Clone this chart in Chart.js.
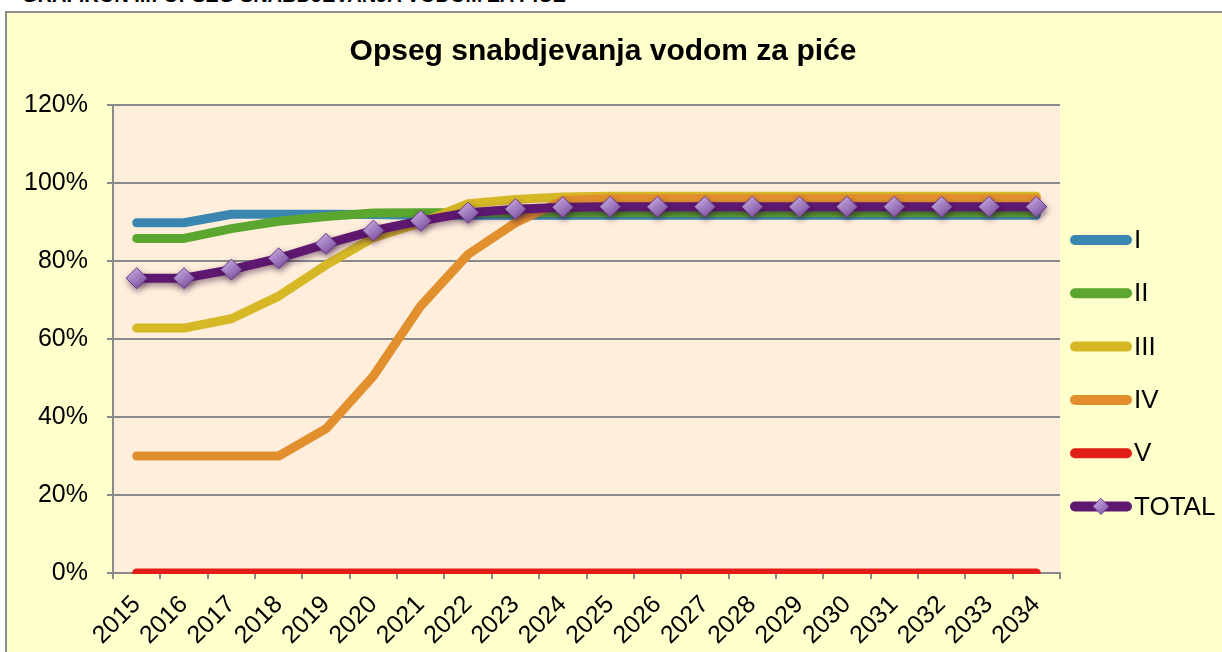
<!DOCTYPE html>
<html>
<head>
<meta charset="utf-8">
<script src="https://cdn.jsdelivr.net/npm/chart.js@4.4.1/dist/chart.umd.min.js"></script>
<style>
  html, body { margin: 0; padding: 0; background: #ffffff; width: 1222px; height: 652px; overflow: hidden; }
  #frame { position: absolute; left: 5px; top: 11px; width: 1260px; height: 700px; background: #FFFFCC; border: 2px solid #8c8c8c; box-sizing: border-box; }
  #caption { position: absolute; left: 22px; top: -16px; font: bold 20px Arial, 'Liberation Sans', sans-serif; color: #000; white-space: nowrap; }
  #wrap { position: absolute; left: 0; top: 0; width: 1222px; height: 652px; }
</style>
</head>
<body>
<div id="caption">GRAFIKON III: OPSEG SNABDJEVANJA VODOM ZA PIĆE</div>
<div id="frame"></div>
<div id="wrap"><canvas id="c" width="1222" height="652"></canvas></div>
<script>
const chartTitle = 'Opseg snabdjevanja vodom za piće';
const years = ['2015','2016','2017','2018','2019','2020','2021','2022','2023','2024','2025','2026','2027','2028','2029','2030','2031','2032','2033','2034'];
const seriesNames = ['I','II','III','IV','V','TOTAL'];
const seriesI     = [89.8, 89.8, 92.0, 92.0, 92.0, 91.9, 91.7, 91.7, 91.7, 91.7, 91.7, 91.7, 91.7, 91.7, 91.7, 91.7, 91.7, 91.7, 91.7, 91.7];
const seriesII    = [85.8, 85.8, 88.3, 90.2, 91.4, 92.3, 92.4, 92.4, 92.4, 92.4, 92.4, 92.4, 92.4, 92.4, 92.4, 92.4, 92.4, 92.4, 92.4, 92.4];
const seriesIII   = [62.8, 62.8, 65.2, 71.0, 79.0, 86.0, 89.8, 94.7, 95.8, 96.4, 96.6, 96.6, 96.6, 96.6, 96.6, 96.6, 96.6, 96.6, 96.6, 96.6];
const seriesIV    = [30.0, 30.0, 30.0, 30.0, 37.0, 50.5, 68.5, 81.7, 89.8, 95.5, 96.0, 96.0, 96.0, 96.0, 96.0, 96.0, 96.0, 96.0, 96.0, 96.0];
const seriesV     = [0, 0, 0, 0, 0, 0, 0, 0, 0, 0, 0, 0, 0, 0, 0, 0, 0, 0, 0, 0];
const seriesTOTAL = [75.6, 75.6, 77.8, 80.7, 84.4, 87.8, 90.3, 92.4, 93.3, 93.8, 93.9, 93.9, 93.9, 93.9, 93.9, 93.9, 93.9, 93.9, 93.9, 93.9];
const yTicks = [0, 20, 40, 60, 80, 100, 120];
const colors = ['#3A86B0', '#5AA62E', '#D6B827', '#E2902E', '#E02018', '#5E1870'];

const FONT = "Arial, 'Liberation Sans', sans-serif";

function diamondFill(ctx, px, py) {
  if (!Number.isFinite(px) || !Number.isFinite(py)) return '#A47FC4';
  const g = ctx.createLinearGradient(px - 7, py - 10, px + 7, py + 10);
  g.addColorStop(0, '#D4B8E8');
  g.addColorStop(0.5, '#A47FC4');
  g.addColorStop(1, '#7A4A9A');
  return g;
}

const bgPlugin = {
  id: 'bg',
  beforeDraw(chart) {
    const {ctx, chartArea: a} = chart;
    ctx.save();
    ctx.fillStyle = '#FFEEDC';
    ctx.fillRect(a.left, a.top, a.right - a.left, a.bottom - a.top);
    ctx.restore();
  }
};

const titlePlugin = {
  id: 'customTitle',
  afterDraw(chart) {
    const ctx = chart.ctx;
    ctx.save();
    ctx.font = 'bold 30px ' + FONT;
    ctx.fillStyle = '#000';
    ctx.textAlign = 'center';
    ctx.textBaseline = 'middle';
    ctx.fillText(chartTitle, 603, 52);
    ctx.restore();
  }
};

const legendPlugin = {
  id: 'customLegend',
  afterDraw(chart) {
    const ctx = chart.ctx;
    ctx.save();
    const x0 = 1075, x1 = 1127, y0 = 240, dy = 53.3;
    seriesNames.forEach((name, i) => {
      const y = y0 + i * dy;
      ctx.strokeStyle = colors[i];
      ctx.lineWidth = 10;
      ctx.lineCap = 'round';
      ctx.beginPath();
      ctx.moveTo(x0, y);
      ctx.lineTo(x1, y);
      ctx.stroke();
      if (name === 'TOTAL') {
        const cx = (x0 + x1) / 2, r = 8;
        ctx.beginPath();
        ctx.moveTo(cx, y - r); ctx.lineTo(cx + r, y); ctx.lineTo(cx, y + r); ctx.lineTo(cx - r, y); ctx.closePath();
        ctx.fillStyle = diamondFill(ctx, cx, y);
        ctx.fill();
        ctx.lineWidth = 1;
        ctx.strokeStyle = '#6E3A8C';
        ctx.stroke();
      }
      ctx.fillStyle = '#000';
      ctx.font = '26px ' + FONT;
      ctx.textAlign = 'left';
      ctx.textBaseline = 'middle';
      ctx.fillText(name, 1134, y + 1);
    });
    ctx.restore();
  }
};

const shadowPlugin = {
  id: 'shadow',
  beforeDatasetDraw(chart, args) {
    if (args.index === 5) {
      const ctx = chart.ctx;
      ctx.save();
      ctx.shadowColor = 'rgba(40,0,50,0.45)';
      ctx.shadowBlur = 6;
      ctx.shadowOffsetX = 1;
      ctx.shadowOffsetY = 3;
    }
  },
  afterDatasetDraw(chart, args) {
    if (args.index === 5) chart.ctx.restore();
  }
};

const seriesData = [seriesI, seriesII, seriesIII, seriesIV, seriesV, seriesTOTAL];
const datasets = seriesNames.map((name, i) => ({
  label: name,
  data: seriesData[i],
  borderColor: colors[i],
  backgroundColor: colors[i],
  borderWidth: 9,
  borderCapStyle: 'round',
  borderJoinStyle: 'round',
  tension: 0,
  fill: false,
  order: 6 - i,
  clip: {left: 10, top: 10, right: 10, bottom: 1},
  pointRadius: name === 'TOTAL' ? 10.5 : 0,
  pointHoverRadius: name === 'TOTAL' ? 10.5 : 0,
  pointStyle: 'rectRot',
  pointBorderWidth: 1,
  pointBorderColor: '#6E3A8C',
  pointBackgroundColor: name === 'TOTAL' ? (c) => {
    const ch = c.chart;
    if (c.dataIndex === undefined || !ch.scales || !ch.scales.x || !ch.scales.y) return '#A47FC4';
    const px = ch.scales.x.getPixelForValue(c.dataIndex);
    const py = ch.scales.y.getPixelForValue(c.raw);
    return diamondFill(ch.ctx, px, py);
  } : colors[i]
}));

new Chart(document.getElementById('c'), {
  type: 'line',
  data: { labels: years, datasets },
  options: {
    responsive: false,
    animation: false,
    devicePixelRatio: 1,
    layout: { padding: { left: 0, right: 162, top: 105, bottom: 0 } },
    plugins: { legend: { display: false }, title: { display: false }, tooltip: { enabled: false } },
    scales: {
      x: {
        type: 'category',
        offset: true,
        afterFit(scale) { scale.height = 79; },
        grid: { display: true, drawOnChartArea: false, drawTicks: true, tickLength: 6, color: '#8a8a8a', lineWidth: 2, offset: true },
        border: { display: true, color: '#8a8a8a', width: 2 },
        ticks: {
          autoSkip: false,
          minRotation: 45,
          maxRotation: 45,
          padding: 11,
          color: '#000',
          font: { family: FONT, size: 25 }
        }
      },
      y: {
        min: 0,
        max: 120,
        afterFit(scale) { scale.width = 113; },
        afterBuildTicks(scale) { scale.ticks = yTicks.map(v => ({ value: v })); },
        grid: { display: true, drawOnChartArea: true, drawTicks: true, tickLength: 6, color: '#8a8a8a', lineWidth: 2 },
        border: { display: true, color: '#8a8a8a', width: 2 },
        ticks: {
          padding: 19,
          color: '#000',
          font: { family: FONT, size: 25 },
          callback: (v) => v + '%'
        }
      }
    }
  },
  plugins: [bgPlugin, shadowPlugin, titlePlugin, legendPlugin]
});
</script>
</body>
</html>
